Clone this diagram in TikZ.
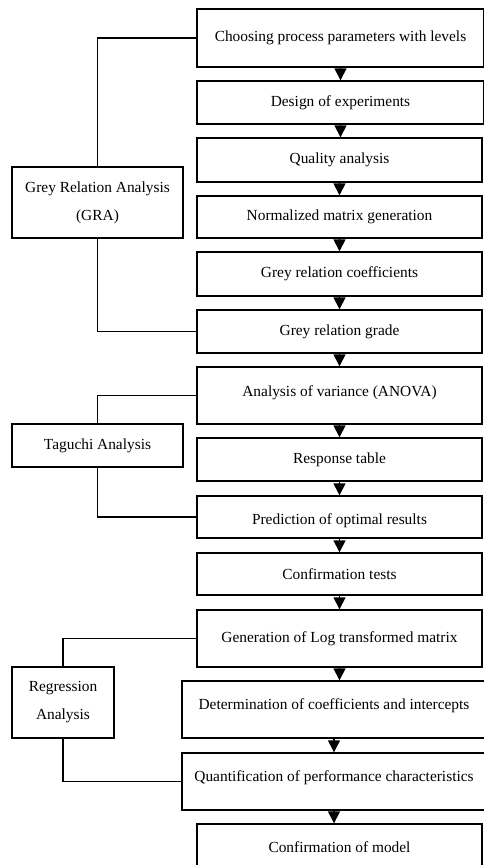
\documentclass[tikz,border=0pt]{standalone}
\usepackage{fontspec}
\setmainfont{Liberation Serif}
\usetikzlibrary{arrows.meta}
\begin{document}
\begin{tikzpicture}[x=1pt,y=-1pt,
  box/.style={draw, line width=1.4pt, inner sep=0pt, align=center,
    font=\fontsize{15.4}{28}\selectfont},
  link/.style={line width=1.5pt},
  flow/.style={line width=1.4pt, -{Triangle[width=12pt,length=12pt]}}]
\useasboundingbox (0,0) rectangle (484,865);
% main column
\node[box, minimum width=287pt, minimum height=58pt] (b1) at (340.5,38) {Choosing process parameters with levels};
\node[box, minimum width=287pt, minimum height=43pt] (b2) at (340.5,102.5) {Design of experiments};
\node[box, minimum width=285pt, minimum height=44pt] (b3) at (339.5,160) {Quality analysis};
\node[box, minimum width=285pt, minimum height=42pt] (b4) at (339.5,217) {Normalized matrix generation};
\node[box, minimum width=285pt, minimum height=44pt] (b5) at (339.5,274) {Grey relation coefficients};
\node[box, minimum width=285pt, minimum height=43pt] (b6) at (339.5,331.5) {Grey relation grade};
\node[box, minimum width=285pt, minimum height=57pt, text depth=8pt] (b7) at (339.5,395.5) {Analysis of variance (ANOVA)};
\node[box, minimum width=285pt, minimum height=43pt] (b8) at (339.5,459.5) {Response table};
\node[box, minimum width=285pt, minimum height=42pt, text height=18pt] (b9) at (339.5,517) {Prediction of optimal results};
\node[box, minimum width=285pt, minimum height=42pt] (b10) at (339.5,574) {Confirmation tests};
\node[box, minimum width=285pt, minimum height=57pt] (b11) at (339.5,638.5) {Generation of Log transformed matrix};
\node[box, minimum width=304pt, minimum height=57pt, text depth=10pt] (b12) at (334,709.5) {Determination of coefficients and intercepts};
\node[box, minimum width=304pt, minimum height=57pt, text depth=10pt] (b13) at (334,781.5) {Quantification of performance characteristics};
\node[box, minimum width=285pt, minimum height=46pt] (b14) at (339.5,847) {Confirmation of model};
% side boxes
\node[box, minimum width=171pt, minimum height=71pt] (gra) at (97.5,202.5) {Grey Relation Analysis\\(GRA)};
\node[box, minimum width=171pt, minimum height=43pt] (tag) at (97.5,445.5) {Taguchi Analysis};
\node[box, minimum width=102pt, minimum height=71pt] (reg) at (63,702.5) {Regression\\Analysis};
% flow arrows
\foreach \a/\b in {b1/b2,b2/b3,b3/b4,b4/b5,b5/b6,b6/b7,b7/b8,b8/b9,b9/b10,b10/b11,b11/b12,b12/b13,b13/b14}
  \draw[flow] (\a.south) -- (\a.south |- \b.north);
% brackets
\draw[link] (b1.west) -| (gra.north);
\draw[link] (gra.south) |- (b6.west);
\draw[link] (b7.west) -| (tag.north);
\draw[link] (tag.south) |- (b9.west);
\draw[link] (b11.west) -| (reg.north);
\draw[link] (reg.south) |- (b13.west);
\end{tikzpicture}
\end{document}
